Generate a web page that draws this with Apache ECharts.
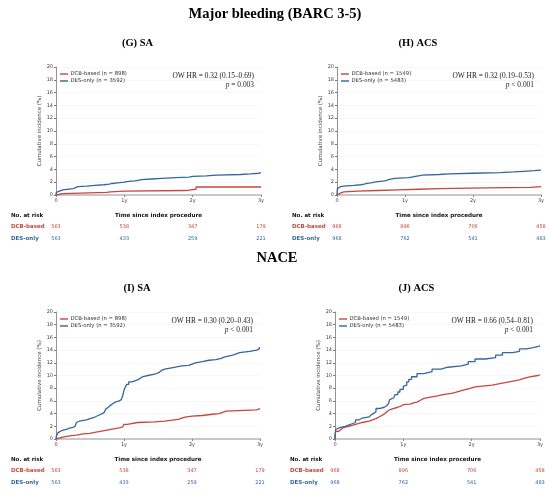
<!DOCTYPE html>
<html>
<head>
<meta charset="utf-8">
<script src="https://cdn.jsdelivr.net/npm/echarts@6/dist/echarts.min.js"></script>
<style>
    html, body {margin: 0; padding: 0; background: #fff;}
    #chart {width: 550px; height: 493px;}
</style>
</head>
<body>
<div id="chart"></div>
<script>
    // tick labels
    const xTickLabels = ["0", "1y", "2y", "3y"];
    const riskTicks = [0, 1, 2, 3];

    // (G) SA, major bleeding  [years, %]
    const bleedSaDcb = [[0, 0], [0.02, 0.2], [0.1, 0.4], [0.74, 0.5], [0.8, 0.6], [1.0, 0.7], [1.9, 0.8], [1.97, 0.9],
        [2.05, 1.25], [3, 1.25]];
    const bleedSaDes = [[0, 0], [0.005, 0.4], [0.01, 0.6], [0.05, 0.8], [0.1, 1.0], [0.25, 1.1], [0.28, 1.3], [0.32, 1.4],
        [0.45, 1.5], [0.57, 1.6], [0.7, 1.7], [0.78, 1.8], [0.82, 1.9], [0.9, 2.0], [1.0, 2.1], [1.03, 2.2], [1.15, 2.3],
        [1.2, 2.4], [1.25, 2.5], [1.4, 2.6], [1.55, 2.7], [1.75, 2.8], [1.95, 2.9], [2.0, 3.0], [2.2, 3.1], [2.35, 3.2],
        [2.7, 3.3], [2.85, 3.4], [2.97, 3.5], [3, 3.5]];
    // (H) ACS, major bleeding
    const bleedAcsDcb = [[0, 0], [0.005, 0.2], [0.01, 0.3], [0.05, 0.5], [0.1, 0.6], [0.3, 0.7], [0.6, 0.8], [0.9, 0.9],
        [1.2, 1.0], [1.5, 1.1], [2.2, 1.2], [2.85, 1.3], [3, 1.3]];
    const bleedAcsDes = [[0, 0], [0.003, 0.6], [0.006, 1.0], [0.02, 1.3], [0.05, 1.4], [0.1, 1.5], [0.25, 1.6], [0.35, 1.7],
        [0.4, 1.8], [0.44, 1.9], [0.5, 2.0], [0.55, 2.1], [0.6, 2.2], [0.7, 2.3], [0.73, 2.45], [0.77, 2.6], [0.85, 2.7],
        [1.05, 2.8], [1.1, 2.9], [1.15, 3.0], [1.2, 3.1], [1.25, 3.2], [1.5, 3.3], [1.65, 3.4], [2.0, 3.5], [2.4, 3.6],
        [2.6, 3.7], [2.75, 3.8], [2.9, 3.9], [3, 3.9]];
    // (I) SA, NACE
    const naceSaDcb = [[0, 0], [0.02, 0.3], [0.1, 0.5], [0.2, 0.6], [0.3, 0.8], [0.4, 0.9], [0.5, 1.0], [0.55, 1.2],
        [0.65, 1.4], [0.75, 1.6], [0.85, 1.8], [0.95, 1.9], [0.98, 2.1], [1.0, 2.3], [1.05, 2.6], [1.2, 2.7], [1.45, 2.8],
        [1.6, 2.9], [1.65, 3.1], [1.8, 3.3], [1.85, 3.45], [1.9, 3.6], [2.0, 3.7], [2.15, 3.9], [2.3, 4.0], [2.4, 4.2],
        [2.45, 4.4], [2.5, 4.6], [2.95, 4.8], [3, 4.8]];
    const naceSaDes = [[0, 0], [0.005, 0.5], [0.015, 0.8], [0.03, 1.0], [0.05, 1.3], [0.08, 1.5], [0.15, 1.7], [0.2, 1.85],
        [0.25, 2.0], [0.28, 2.3], [0.3, 2.6], [0.32, 2.8], [0.34, 3.0], [0.45, 3.2], [0.5, 3.35], [0.55, 3.5], [0.58, 3.7],
        [0.62, 4.0], [0.68, 4.2], [0.71, 4.4], [0.73, 4.7], [0.75, 5.0], [0.77, 5.3], [0.8, 5.6], [0.84, 5.8], [0.87, 6.0],
        [0.93, 6.2], [0.96, 6.4], [0.98, 6.8], [0.99, 7.2], [1.0, 7.7], [1.02, 8.2], [1.04, 8.6], [1.07, 9.0], [1.12, 9.3],
        [1.2, 9.5], [1.23, 9.8], [1.27, 10.0], [1.35, 10.2], [1.45, 10.5], [1.52, 10.8], [1.55, 11.0], [1.6, 11.2],
        [1.7, 11.5], [1.85, 11.6], [1.95, 11.8], [2.0, 12.0], [2.05, 12.2], [2.15, 12.4], [2.25, 12.5], [2.35, 12.7],
        [2.43, 12.9], [2.47, 13.2], [2.6, 13.4], [2.65, 13.6], [2.7, 13.8], [2.85, 14.0], [2.95, 14.2], [2.99, 14.5], [3, 14.5]];
    // (J) ACS, NACE
    const naceAcsDcb = [[0, 0], [0.002, 0.5], [0.005, 0.8], [0.01, 1.2], [0.05, 1.5], [0.09, 1.8], [0.12, 2.0], [0.2, 2.3],
        [0.3, 2.6], [0.4, 2.8], [0.5, 3.0], [0.55, 3.2], [0.6, 3.5], [0.65, 3.8], [0.7, 4.0], [0.73, 4.3], [0.76, 4.6],
        [0.8, 4.8], [0.85, 5.0], [0.92, 5.2], [0.97, 5.4], [1.0, 5.5], [1.1, 5.7], [1.15, 5.8], [1.2, 6.1], [1.25, 6.4],
        [1.3, 6.6], [1.4, 6.8], [1.5, 7.0], [1.58, 7.2], [1.7, 7.3], [1.75, 7.6], [1.85, 7.9], [1.95, 8.2], [2.05, 8.5],
        [2.3, 8.8], [2.45, 9.0], [2.55, 9.3], [2.7, 9.5], [2.75, 9.8], [2.85, 10.0], [2.97, 10.1], [3, 10.1]];
    const naceAcsDes = [[0, 0], [0.002, 0.6], [0.005, 1.0], [0.01, 1.5], [0.03, 1.8], [0.07, 2.0], [0.15, 2.2], [0.2, 2.4],
        [0.25, 2.6], [0.3, 3.0], [0.35, 3.3], [0.4, 3.5], [0.5, 3.8], [0.53, 4.0], [0.56, 4.3], [0.6, 4.8], [0.65, 5.0],
        [0.72, 5.2], [0.75, 5.5], [0.78, 5.8], [0.8, 6.2], [0.82, 6.5], [0.86, 6.8], [0.88, 7.0], [0.92, 7.4], [0.95, 7.8],
        [1.0, 8.3], [1.02, 8.5], [1.05, 9.0], [1.08, 9.4], [1.12, 9.8], [1.2, 10.3], [1.3, 10.6], [1.42, 11.0],
        [1.55, 11.3], [1.65, 11.5], [1.85, 11.8], [1.95, 12.2], [2.05, 12.6], [2.2, 12.8], [2.35, 13.2], [2.45, 13.6],
        [2.6, 13.8], [2.7, 14.2], [2.8, 14.4], [2.9, 14.6], [2.98, 14.7], [3, 14.7]];

    // numbers at risk
    const riskSaDcb = [563, 538, 347, 179];
    const riskSaDes = [563, 433, 259, 221];
    const riskAcsDcb = [968, 896, 706, 458];
    const riskAcsDes = [968, 762, 541, 483];

    const RED = "#c9453d", BLUE = "#35669e";
    const SANS = "DejaVu Sans", SERIF = "Liberation Serif";

    // panel layout
    const panels = [
        {title: "(G) SA", box: {left: 56, top: 67, width: 205, height: 128}, dcb: bleedSaDcb, des: bleedSaDes,
            nDcb: 898, nDes: 3592, hr: "OW HR = 0.32 (0.15\u20130.69)", p: "= 0.003", rDcb: riskSaDcb, rDes: riskSaDes},
        {title: "(H) ACS", box: {left: 337, top: 67, width: 204, height: 128}, dcb: bleedAcsDcb, des: bleedAcsDes,
            nDcb: 1549, nDes: 5483, hr: "OW HR = 0.32 (0.19\u20130.53)", p: "< 0.001", rDcb: riskAcsDcb, rDes: riskAcsDes},
        {title: "(I) SA", box: {left: 56, top: 312, width: 204, height: 127}, dcb: naceSaDcb, des: naceSaDes,
            nDcb: 898, nDes: 3592, hr: "OW HR = 0.30 (0.20\u20130.43)", p: "< 0.001", rDcb: riskSaDcb, rDes: riskSaDes},
        {title: "(J) ACS", box: {left: 335, top: 312, width: 205, height: 127}, dcb: naceAcsDcb, des: naceAcsDes,
            nDcb: 1549, nDes: 5483, hr: "OW HR = 0.66 (0.54\u20130.81)", p: "< 0.001", rDcb: riskAcsDcb, rDes: riskAcsDes}
    ];

    const chart = echarts.init(document.getElementById("chart"), null, {renderer: "canvas"});

    const grid = [], xAxis = [], yAxis = [], series = [];
    panels.forEach((pn, i) => {
        grid.push(Object.assign({containLabel: false}, pn.box));
        xAxis.push({
            type: "value", gridIndex: i, min: 0, max: 3, interval: 1,
            axisLine: {show: true, lineStyle: {color: "#c8c8c8", width: 2}},
            axisTick: {show: true, length: 2, lineStyle: {color: "#888"}},
            axisLabel: {fontSize: 5, color: "#444", fontFamily: SANS, margin: 3, formatter: v => xTickLabels[v]},
            splitLine: {show: false}
        });
        yAxis.push({
            type: "value", gridIndex: i, min: 0, max: 20, interval: 2,
            name: "Cumulative incidence (%)", nameLocation: "middle", nameGap: 11,
            nameTextStyle: {fontSize: 5.5, color: "#444", fontFamily: SANS},
            axisLine: {show: true, lineStyle: {color: "#777", width: 0.8}},
            axisTick: {show: true, length: 2, lineStyle: {color: "#777"}},
            axisLabel: {fontSize: 5, color: "#444", fontFamily: SANS, margin: 3},
            splitLine: {show: true, lineStyle: {color: "#f1f1f1", width: 0.6}}
        });
        [[pn.dcb, RED, "DCB-based"], [pn.des, BLUE, "DES-only"]].forEach(([d, c, nm]) => {
            series.push({
                type: "line", name: nm, xAxisIndex: i, yAxisIndex: i, data: d, step: "end",
                symbol: "none", lineStyle: {color: c, width: 1.3}, itemStyle: {color: c}, silent: true
            });
        });
    });

    chart.setOption({animation: false, grid, xAxis, yAxis, series});

    // text overlay (titles, legends, annotations, risk tables)
    const txt = (x, y, text, o) => ({
        type: "text", x, y, silent: true,
        style: Object.assign({text, fontFamily: SANS, fontSize: 5.5, fill: "#333", align: "left", verticalAlign: "middle"}, o)
    });
    const graphic = [
        txt(275, 14, "Major bleeding (BARC 3-5)", {fontFamily: SERIF, fontSize: 14.5, fontWeight: "bold", fill: "#000", align: "center"}),
        txt(277, 258, "NACE", {fontFamily: SERIF, fontSize: 14.5, fontWeight: "bold", fill: "#000", align: "center"})
    ];
    panels.forEach((pn, i) => {
        const b = pn.box, right = b.left + b.width, bottom = b.top + b.height;
        graphic.push(txt(b.left + b.width / 2 - 21, b.top - 24, pn.title,
            {fontFamily: SERIF, fontSize: 10.5, fontWeight: "bold", fill: "#000", align: "center"}));
        // legend
        [[RED, `DCB-based (n = ${pn.nDcb})`, 7], [BLUE, `DES-only (n = ${pn.nDes})`, 14]].forEach(([c, t, dy]) => {
            graphic.push({type: "line", silent: true, shape: {x1: b.left + 4, y1: b.top + dy, x2: b.left + 12, y2: b.top + dy},
                style: {stroke: c, lineWidth: 1.4}});
            graphic.push(txt(b.left + 14.5, b.top + dy, t, {fontSize: 5.3, fill: "#333"}));
        });
        // hazard ratio
        graphic.push(txt(right - 7, b.top + 9, pn.hr, {fontFamily: SERIF, fontSize: 7.4, fill: "#222", align: "right"}));
        graphic.push(txt(right - 7, b.top + 18, `{i|p} ${pn.p}`, {fontFamily: SERIF, fontSize: 7.4, fill: "#222", align: "right",
            rich: {i: {fontFamily: SERIF, fontSize: 7.4, fontStyle: "italic", fill: "#222"}}}));
        // risk table
        graphic.push(txt(b.left - 45, bottom + 21, "No. at risk", {fontWeight: "bold", fill: "#111"}));
        graphic.push(txt(b.left + b.width / 2, bottom + 21, "Time since index procedure",
            {fontWeight: "bold", fill: "#111", fontSize: 5.6, align: "center"}));
        graphic.push(txt(b.left - 45, bottom + 32, "DCB-based", {fontWeight: "bold", fill: RED}));
        graphic.push(txt(b.left - 45, bottom + 44, "DES-only", {fontWeight: "bold", fill: BLUE}));
        riskTicks.forEach((t, k) => {
            const px = chart.convertToPixel({xAxisIndex: i}, t);
            graphic.push(txt(px, bottom + 32, String(pn.rDcb[k]), {fill: RED, fontSize: 5, align: "center"}));
            graphic.push(txt(px, bottom + 44, String(pn.rDes[k]), {fill: BLUE, fontSize: 5, align: "center"}));
        });
    });
    chart.setOption({graphic});
</script>
</body>
</html>
